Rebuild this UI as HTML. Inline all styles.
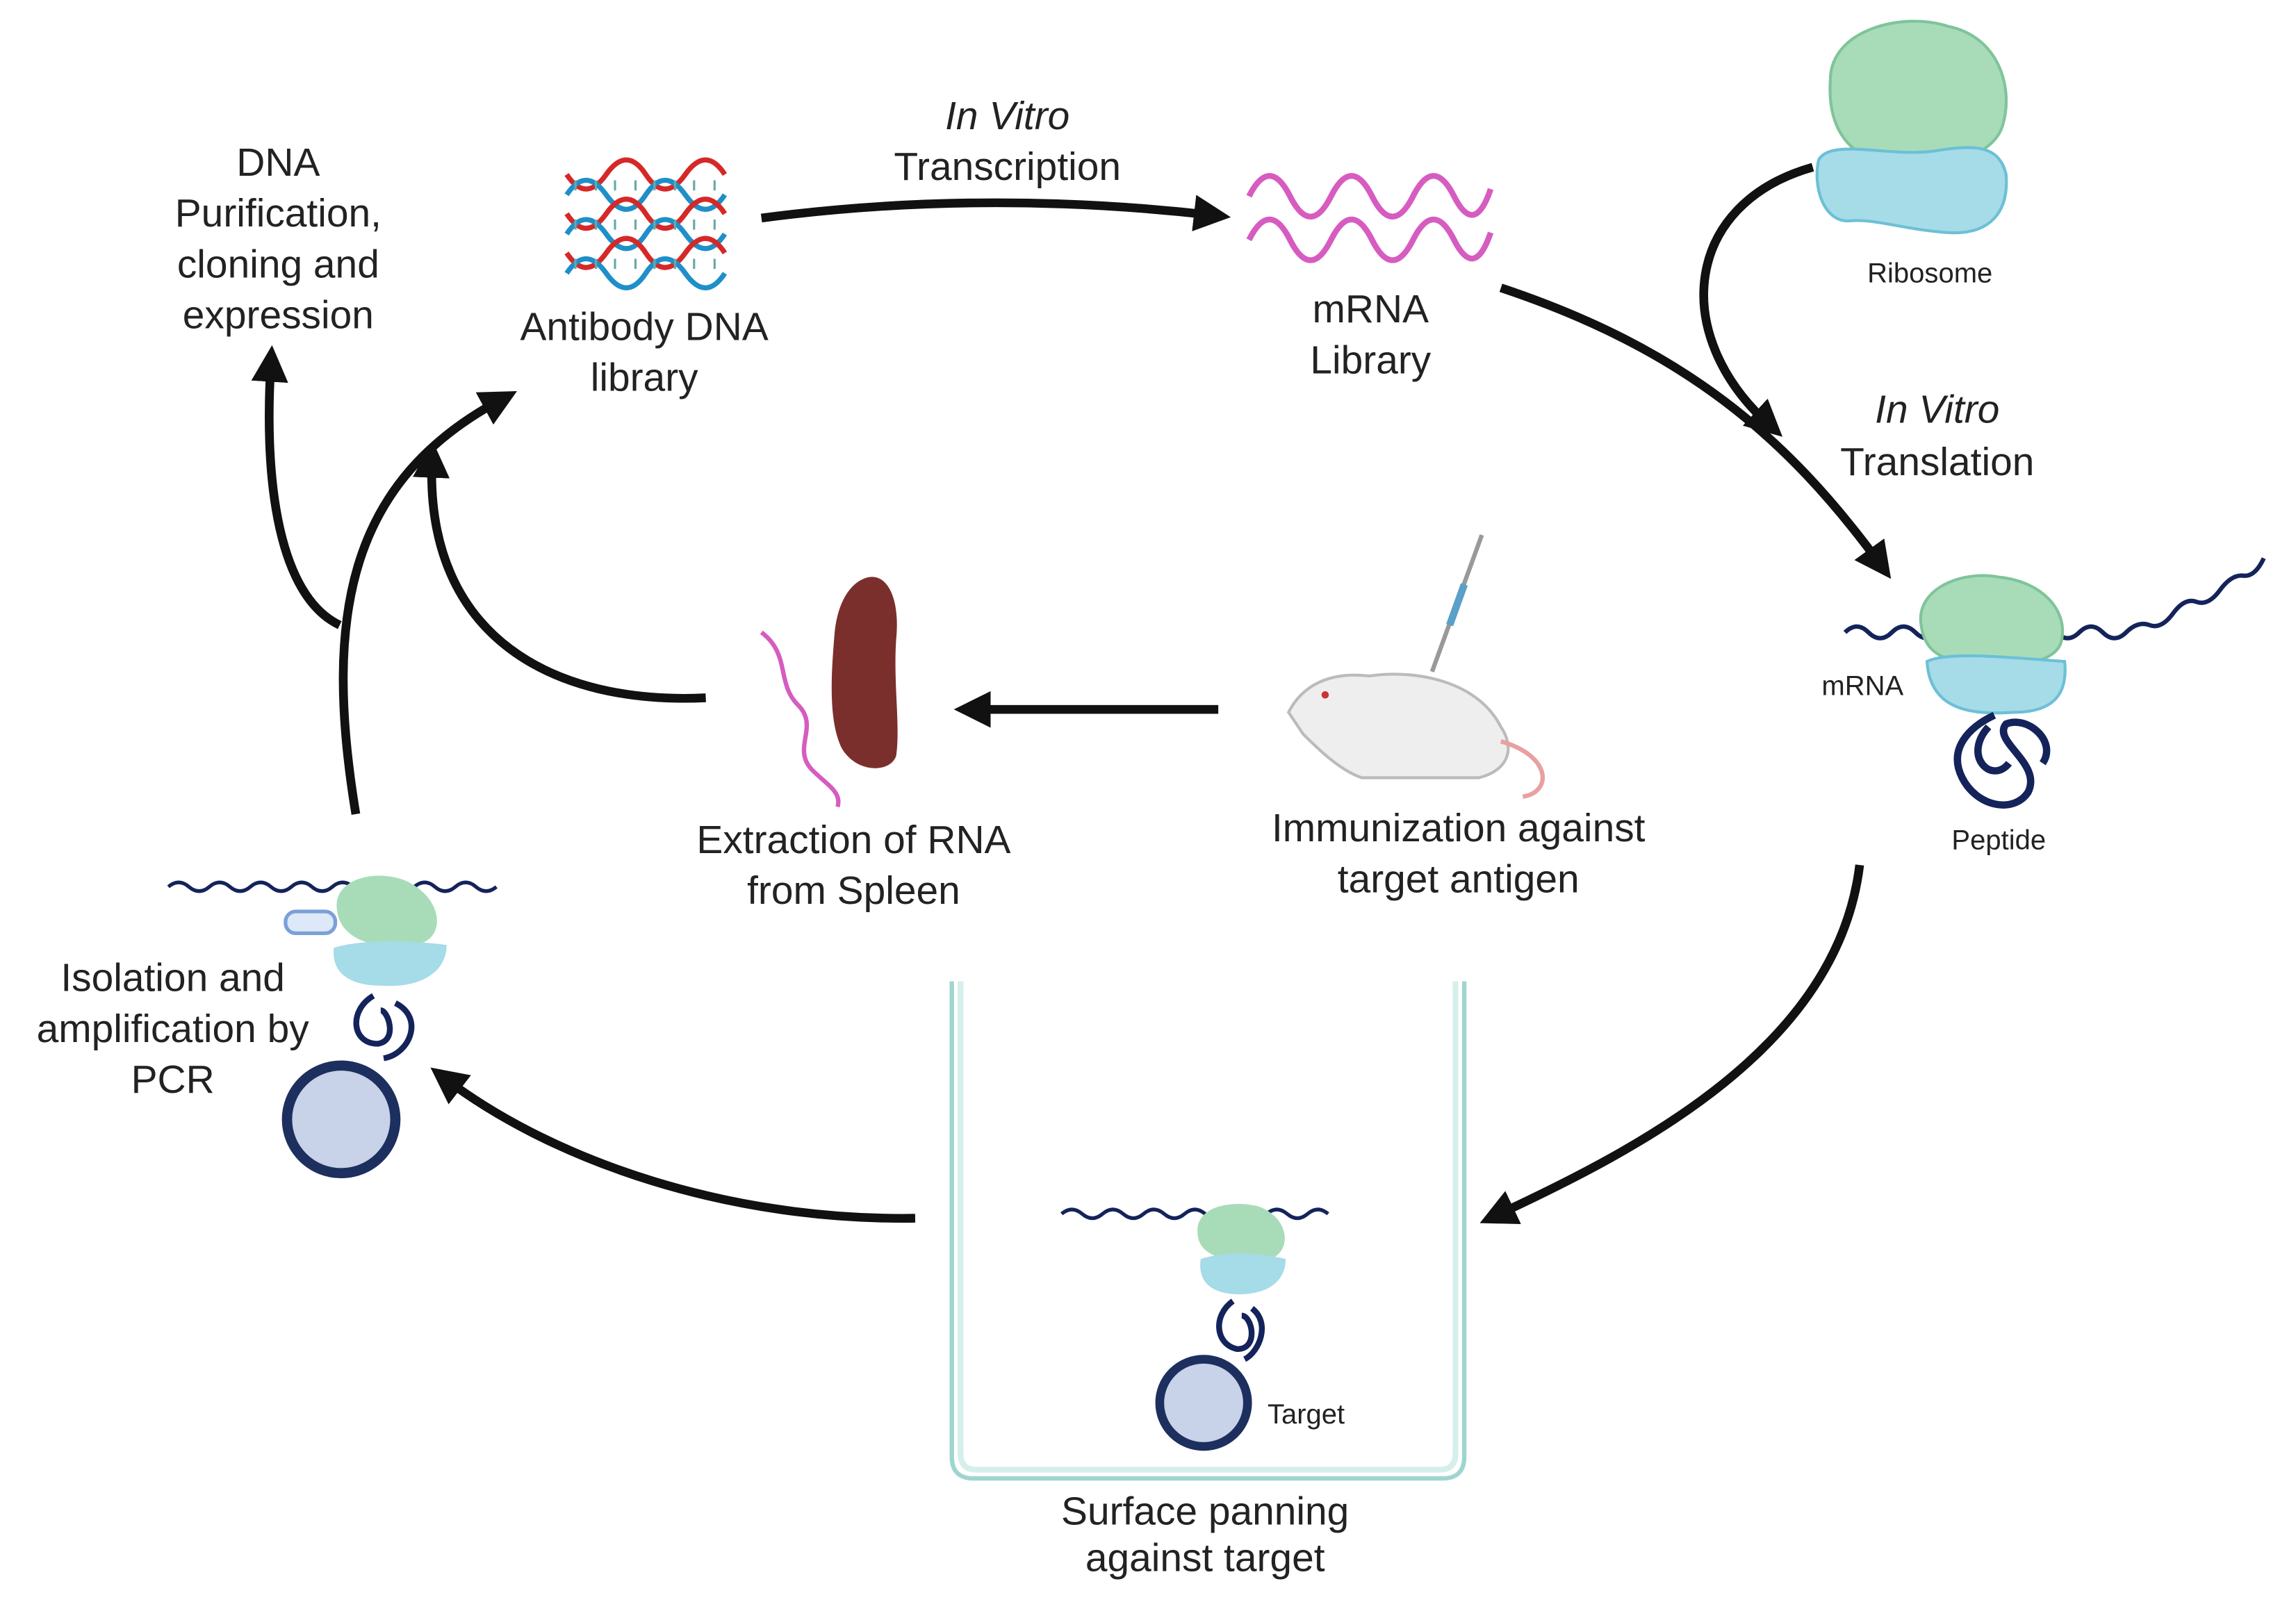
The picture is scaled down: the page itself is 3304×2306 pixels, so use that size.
<!DOCTYPE html>
<html><head><meta charset="utf-8">
<style>
html,body{margin:0;padding:0;background:#fff;}
svg{display:block;}
text{font-family:"Liberation Sans",sans-serif;fill:#222;}
</style></head><body>
<svg width="3304" height="2306" viewBox="0 0 1568 1102" preserveAspectRatio="none" xmlns="http://www.w3.org/2000/svg">
<defs>
<marker id="ah" viewBox="0 0 10 10" refX="5" refY="5" markerWidth="4.2" markerHeight="4.2" orient="auto-start-reverse">
<path d="M0,0 L10,5 L0,10 z" fill="#111"/></marker>
</defs>
<g font-size="27" text-anchor="middle" dominant-baseline="central">
<text x="190" y="112">DNA</text>
<text x="190" y="147">Purification,</text>
<text x="190" y="182">cloning and</text>
<text x="190" y="217">expression</text>
<text x="440" y="225">Antibody DNA</text>
<text x="440" y="260">library</text>
<text x="688" y="80" font-style="italic">In Vitro</text>
<text x="688" y="115">Transcription</text>
<text x="936" y="213">mRNA</text>
<text x="936" y="248">Library</text>
<text x="1323" y="282" font-style="italic">In Vitro</text>
<text x="1323" y="318">Translation</text>
<text x="583" y="578">Extraction of RNA</text>
<text x="583" y="613">from Spleen</text>
<text x="996" y="570">Immunization against</text>
<text x="996" y="605">target antigen</text>
<text x="118" y="673">Isolation and</text>
<text x="118" y="708">amplification by</text>
<text x="118" y="743">PCR</text>
<text x="823" y="1040">Surface panning</text>
<text x="823" y="1072">against target</text>
</g>
<g font-size="19" text-anchor="middle" dominant-baseline="central">
<text x="1318" y="188">Ribosome</text>
<text x="1272" y="472">mRNA</text>
<text x="1365" y="578">Peptide</text>
<text x="892" y="973">Target</text>
</g>

<!-- DNA helix -->
<g fill="none" stroke-width="3.5">
<g id="hx">
<path d="M387,120 q13,20 27,0 t27,0 t27,0 t27,0" stroke="#d62828"/>
<path d="M387,134 q13,-20 27,0 t27,0 t27,0 t27,0" stroke="#1f8fc8"/>
<g stroke="#6aa" stroke-width="1.5"><path d="M393,124v7M407,124v7M420,124v7M434,124v7M447,124v7M461,124v7M474,124v7M488,124v7"/></g>
</g>
<use href="#hx" y="27"/><use href="#hx" y="54"/>
</g>

<!-- mRNA waves -->
<g fill="none" stroke="#d65cc0" stroke-width="4">
<path d="M853,135 q14,-28 28,0 t28,0 t28,0 t28,0 t28,0 t25,-5"/>
<path d="M853,165 q14,-28 28,0 t28,0 t28,0 t28,0 t28,0 t25,-5"/>
</g>

<!-- Ribosome top -->
<path d="M1250,55 C1250,20 1300,8 1330,18 C1365,25 1375,60 1368,85 C1362,110 1320,118 1290,112 C1260,108 1248,85 1250,55Z" fill="#a8dcb9" stroke="#7fc49a" stroke-width="2"/>
<path d="M1242,110 C1250,95 1290,108 1320,104 C1345,100 1365,98 1370,120 C1372,145 1360,162 1330,160 C1300,158 1280,150 1262,152 C1245,152 1238,128 1242,110Z" fill="#a6dbe8" stroke="#6cc0d6" stroke-width="2"/>

<!-- Arrows -->
<g fill="none" stroke="#111" stroke-width="6" marker-end="url(#ah)">
<path d="M520,150 Q670,130 828,148"/>
<path d="M1238,115 C1150,140 1140,230 1208,292"/>
<path d="M1025,198 C1150,240 1220,300 1284,388"/>
<path d="M1270,595 C1255,720 1120,790 1022,836"/>
<path d="M625,838 C500,840 380,800 304,742"/>
<path d="M243,560 C220,420 240,330 342,275"/>
<path d="M232,430 C190,410 180,330 185,250"/>
<path d="M482,480 C380,485 290,440 295,316"/>
<path d="M832,488 L664,488"/>
</g>

<!-- Right complex -->
<path d="M1260,435 q8,-8 16,0 t16,0 t16,0 t16,0 t16,0 t16,0 t16,0 t16,0 t16,0 t16,0 t16,0 t16,0 t16,-5 t16,-8 t16,-8 t16,-8 t16,-10 t14,-12" fill="none" stroke="#14235a" stroke-width="3"/>
<path d="M1312,430 C1308,405 1340,392 1365,397 C1395,400 1412,420 1408,440 C1405,458 1370,460 1345,456 C1322,454 1314,445 1312,430Z" fill="#a8dcb9" stroke="#7fc49a" stroke-width="2"/>
<path d="M1316,455 C1330,448 1370,452 1410,455 C1412,475 1405,490 1375,490 C1345,492 1318,488 1316,455Z" fill="#a6dbe8" stroke="#6cc0d6" stroke-width="2"/>
<path d="M1362,492 C1345,500 1330,515 1340,535 C1350,555 1375,560 1385,545 C1395,525 1360,510 1370,498 C1385,492 1405,510 1395,525 M1358,500 C1340,520 1360,540 1372,525" fill="none" stroke="#14235a" stroke-width="5"/>

<!-- Spleen -->
<path d="M520,435 C540,450 530,470 545,485 C560,500 540,515 555,530 C565,540 575,545 572,555" fill="none" stroke="#d65cc0" stroke-width="3"/>
<path d="M590,398 C605,392 615,410 612,440 C610,470 615,500 612,520 C608,532 585,532 575,515 C565,495 568,460 570,435 C572,415 580,402 590,398Z" fill="#7b2f2c"/>

<!-- Mouse -->
<line x1="978" y1="462" x2="1012" y2="368" stroke="#999" stroke-width="3"/>
<line x1="990" y1="430" x2="1000" y2="402" stroke="#5aa0c8" stroke-width="5"/>
<path d="M880,490 C890,470 910,462 935,465 C970,460 1010,470 1025,500 C1035,515 1030,530 1010,535 L930,535 C915,530 900,515 890,505 Z" fill="#eeeeee" stroke="#bbb" stroke-width="2"/>
<path d="M1025,510 C1060,520 1060,545 1040,548" fill="none" stroke="#e8a0a0" stroke-width="3"/>
<circle cx="905" cy="478" r="2.5" fill="#c33"/>

<!-- Well -->
<path d="M650,675 L650,1002 Q650,1017 665,1017 L985,1017 Q1000,1017 1000,1002 L1000,675" fill="none" stroke="#9ed6cf" stroke-width="3"/>
<path d="M656,675 L656,1000 Q656,1011 667,1011 L983,1011 Q994,1011 994,1000 L994,675" fill="none" stroke="#d6efec" stroke-width="4"/>

<!-- Well complex -->
<path d="M725,835 q7,-6 14,0 t14,0 t14,0 t14,0 t14,0 t14,0 t14,0 t14,0 t14,0 t14,0 t14,0 t14,0 t14,0" fill="none" stroke="#14235a" stroke-width="2.5"/>
<path d="M818,850 C815,830 840,825 860,830 C880,838 882,858 870,865 C850,870 820,868 818,850Z" fill="#a8dcb9"/>
<path d="M820,866 C840,860 860,862 878,866 C878,885 860,892 840,890 C825,888 818,880 820,866Z" fill="#a6dbe8"/>
<path d="M842,895 C828,905 830,925 845,928 C860,928 855,905 848,905 M855,900 C868,910 860,930 850,935" fill="none" stroke="#14235a" stroke-width="4"/>
<circle cx="822" cy="965" r="30" fill="#c8d2e8" stroke="#1d2f5e" stroke-width="6"/>

<!-- Left complex -->
<path d="M115,610 q7,-6 14,0 t14,0 t14,0 t14,0 t14,0 t14,0 t14,0 t14,0 t14,0 t14,0 t14,0 t14,0 t14,0 t14,0 t14,0 t14,0" fill="none" stroke="#14235a" stroke-width="2.5"/>
<path d="M230,625 C228,605 255,598 275,605 C300,615 305,640 290,648 C265,655 232,650 230,625Z" fill="#a8dcb9"/>
<path d="M228,652 C250,645 290,648 305,650 C305,670 285,680 260,678 C240,678 226,670 228,652Z" fill="#a6dbe8"/>
<rect x="195" y="627" width="34" height="15" rx="7" fill="#dde8f8" stroke="#7aa0d8" stroke-width="2.5"/>
<path d="M255,685 C238,695 240,718 258,718 C272,716 265,695 260,695 M270,690 C290,700 280,725 262,728" fill="none" stroke="#14235a" stroke-width="4"/>
<circle cx="233" cy="770" r="37" fill="#c8d2e8" stroke="#1d2f5e" stroke-width="7"/>
</svg>
</body></html>
